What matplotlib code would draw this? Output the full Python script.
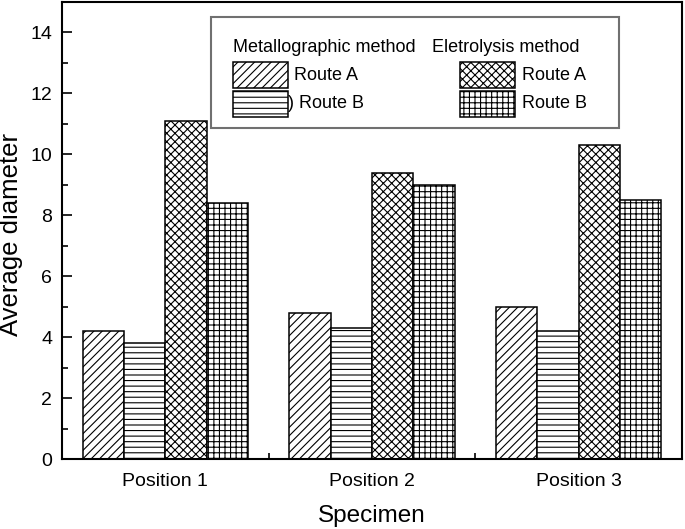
import matplotlib
matplotlib.use("Agg")
import matplotlib.pyplot as plt
from matplotlib.patches import Rectangle
from matplotlib.ticker import MultipleLocator, FixedLocator
import numpy as np

plt.rcParams['font.family'] = ['Liberation Sans', 'DejaVu Sans']
plt.rcParams['hatch.linewidth'] = 0.8

categories = ["Position 1", "Position 2", "Position 3"]
metallo_A = [4.2, 4.8, 5.0]
metallo_B = [3.8, 4.3, 4.2]
electro_A = [11.1, 9.4, 10.3]
electro_B = [8.4, 9.0, 8.5]

series = [metallo_A, metallo_B, electro_A, electro_B]
hatches = ['////', '---', 'xxxx', '+++']

W, H = 685, 529
fig = plt.figure(figsize=(W / 100, H / 100), dpi=100)
ax = fig.add_axes([62 / W, 1 - 459 / H, (682 - 62) / W, (459 - 2) / H])

x = np.arange(1, len(categories) + 1)
bw = 0.2
for i, (vals, h) in enumerate(zip(series, hatches)):
    ax.bar(x + (i - 1.5) * bw, vals, bw, facecolor='white', edgecolor='black',
           hatch=h, linewidth=1.1, zorder=2)

ax.set_xlim(0.5, 3.5)
ax.set_ylim(0, 15)
ax.set_yticks(np.arange(0, 15, 2))
ax.yaxis.set_minor_locator(MultipleLocator(1))
ax.set_xticks(x)
ax.set_xticklabels(categories)
ax.xaxis.set_minor_locator(FixedLocator([1.5, 2.5]))
ax.tick_params(axis='x', which='major', length=0, pad=10, labelsize=14)
ax.tick_params(axis='x', which='minor', direction='in', length=4, width=1.2)
ax.tick_params(axis='y', which='major', direction='in', length=7, width=1.2,
               labelsize=14, pad=7)
ax.tick_params(axis='y', which='minor', direction='in', length=4.5, width=1.2)
for s in ax.spines.values():
    s.set_linewidth(1.5)

ax.set_ylabel("Average diameter", fontsize=18.5, va='center')
ax.yaxis.set_label_coords((11 - 62) / 620, (459 - 235) / 457)
ax.set_xlabel("Specimen", fontsize=17.5, va='center')
ax.xaxis.set_label_coords((372 - 62) / 620, (459 - 516) / 457)


def fx(px):
    return px / W


def fy(py):
    return 1 - py / H


# Legend box
fig.patches.append(Rectangle((fx(211), fy(128)), fx(619) - fx(211), fy(17) - fy(128),
                             transform=fig.transFigure, facecolor='white',
                             edgecolor='#707070', linewidth=1.5, zorder=5))
fig.text(fx(233), fy(47), "Metallographic method", fontsize=13, va='center', ha='left', zorder=6)
fig.text(fx(432), fy(47), "Eletrolysis method", fontsize=13, va='center', ha='left', zorder=6)

legend_items = [
    (233, 62, hatches[0], "Route A", 294),
    (233, 91, hatches[1], ") Route B", 288),
    (460, 62, hatches[2], "Route A", 522),
    (460, 91, hatches[3], "Route B", 522),
]
for px, py, h, lab, tx in legend_items:
    fig.patches.append(Rectangle((fx(px), fy(py + 26)), fx(px + 55) - fx(px), fy(py) - fy(py + 26),
                                 transform=fig.transFigure, facecolor='white',
                                 edgecolor='black', hatch=h, linewidth=1.1, zorder=6))
    fig.text(fx(tx), fy(py + 13), lab, fontsize=13, va='center', ha='left', zorder=7)

fig.savefig("out.png", dpi=100)
